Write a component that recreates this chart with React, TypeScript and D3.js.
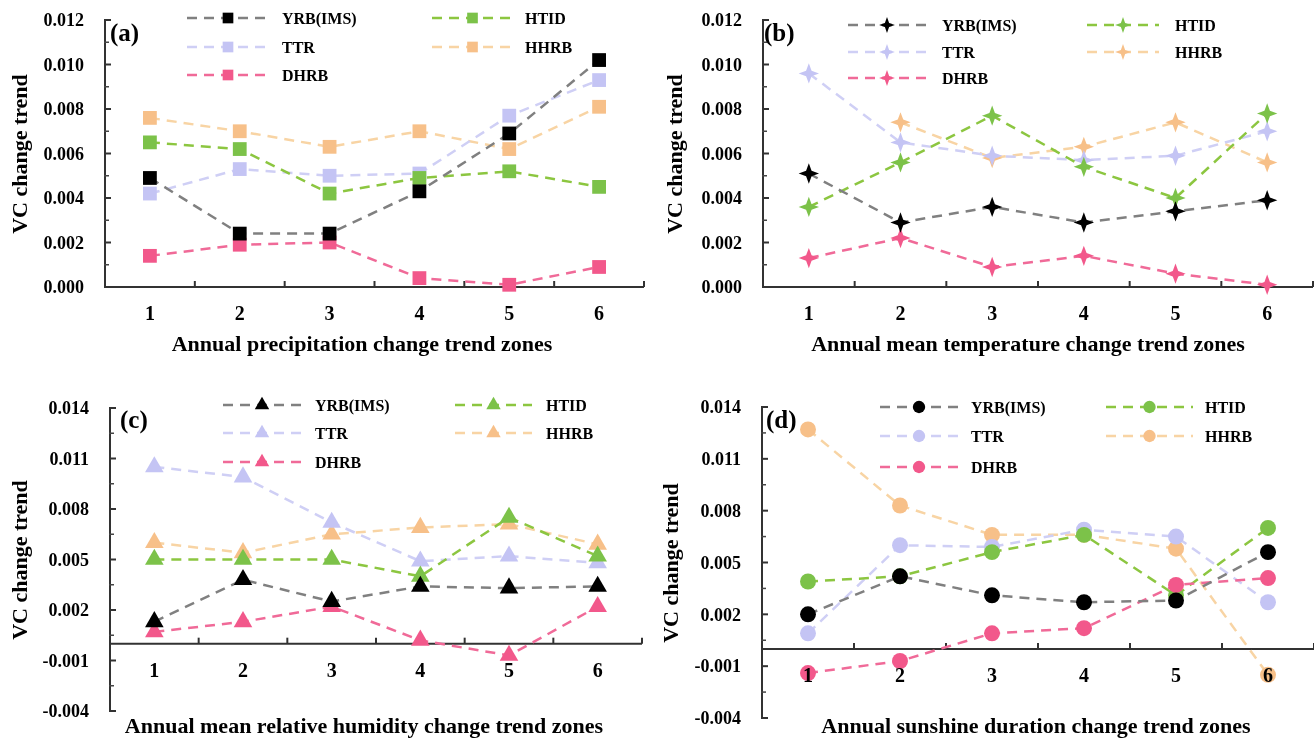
import * as d3 from 'd3';
import React from 'react';

// zones on the x axis
const zones = ['1', '2', '3', '4', '5', '6'];
const seriesNames = ['YRB(IMS)', 'TTR', 'HTID', 'HHRB', 'DHRB'];
// legend columns
const legendCol1 = ['YRB(IMS)', 'TTR', 'DHRB'];
const legendCol2 = ['HTID', 'HHRB'];

const ticksAB = [0, 0.002, 0.004, 0.006, 0.008, 0.01, 0.012];
const ticksCD = [-0.004, -0.001, 0.002, 0.005, 0.008, 0.011, 0.014];

// (a) precipitation
const precipYRB = [0.0049, 0.0024, 0.0024, 0.0043, 0.0069, 0.0102];
const precipTTR = [0.0042, 0.0053, 0.005, 0.0051, 0.0077, 0.0093];
const precipHTID = [0.0065, 0.0062, 0.0042, 0.0049, 0.0052, 0.0045];
const precipHHRB = [0.0076, 0.007, 0.0063, 0.007, 0.0062, 0.0081];
const precipDHRB = [0.0014, 0.0019, 0.002, 0.0004, 0.0001, 0.0009];

// (b) temperature
const tempYRB = [0.0051, 0.0029, 0.0036, 0.0029, 0.0034, 0.0039];
const tempTTR = [0.0096, 0.0065, 0.0059, 0.0057, 0.0059, 0.007];
const tempHTID = [0.0036, 0.0056, 0.0077, 0.0054, 0.004, 0.0078];
const tempHHRB = [null, 0.0074, 0.0058, 0.0063, 0.0074, 0.0056];
const tempDHRB = [0.0013, 0.0022, 0.0009, 0.0014, 0.0006, 0.0001];

// (c) relative humidity
const humYRB = [0.0013, 0.0038, 0.0025, 0.0034, 0.0033, 0.0034];
const humTTR = [0.0105, 0.0099, 0.0072, 0.0049, 0.0052, 0.0048];
const humHTID = [0.005, 0.005, 0.005, 0.004, 0.0075, 0.0052];
const humHHRB = [0.006, 0.0054, 0.0065, 0.0069, 0.0071, 0.0059];
const humDHRB = [0.0007, 0.0013, 0.0022, 0.0002, -0.0007, 0.0022];

// (d) sunshine duration
const sunYRB = [0.002, 0.0042, 0.0031, 0.0027, 0.0028, 0.0056];
const sunTTR = [0.0009, 0.006, 0.0059, 0.0069, 0.0065, 0.0027];
const sunHTID = [0.0039, 0.0042, 0.0056, 0.0066, 0.0031, 0.007];
const sunHHRB = [0.0127, 0.0083, 0.0066, 0.0066, 0.0058, -0.0015];
const sunDHRB = [-0.0014, -0.0007, 0.0009, 0.0012, 0.0037, 0.0041];

const colors = {
  'YRB(IMS)': { line: '#808080', mark: '#000000' },
  TTR: { line: '#cfcff5', mark: '#c4c4f4' },
  HTID: { line: '#8cc640', mark: '#7cc24a' },
  HHRB: { line: '#f8d4a4', mark: '#f7c089' },
  DHRB: { line: '#f06a98', mark: '#f2598b' },
};

// 4 point star used in panel (b)
const star4 = {
  draw(ctx, size) {
    const r = Math.sqrt(size) * 0.72;
    const ri = r * 0.38;
    for (let i = 0; i < 8; i++) {
      const a = (i * Math.PI) / 4 - Math.PI / 2;
      const rr = i % 2 ? ri : r;
      if (i === 0) ctx.moveTo(rr * Math.cos(a), rr * Math.sin(a));
      else ctx.lineTo(rr * Math.cos(a), rr * Math.sin(a));
    }
    ctx.closePath();
  },
};

const panels = [
  {
    label: '(a)', title: 'Annual precipitation change trend zones',
    data: [precipYRB, precipTTR, precipHTID, precipHHRB, precipDHRB],
    symbol: d3.symbolSquare, size: 190, domain: [0, 0.012], ticks: ticksAB,
    x0: 105, x1: 644, yTop: 20, yBot: 287, catY: 313, titleX: 362, titleY: 343,
    labelX: 110, labelY: 41, yTitleX: 19, yTitleY: 154,
    legRows: [18, 47, 75], col1: [187, 269, 282], col2: [432, 513, 525],
  },
  {
    label: '(b)', title: 'Annual mean temperature change trend zones',
    data: [tempYRB, tempTTR, tempHTID, tempHHRB, tempDHRB],
    symbol: star4, size: 200, domain: [0, 0.012], ticks: ticksAB,
    x0: 763, x1: 1313, yTop: 20, yBot: 287, catY: 313, titleX: 1028, titleY: 343,
    labelX: 764, labelY: 41, yTitleX: 674, yTitleY: 154,
    legRows: [25, 52, 78], col1: [848, 926, 942], col2: [1087, 1159, 1175],
  },
  {
    label: '(c)', title: 'Annual mean relative humidity change trend zones',
    data: [humYRB, humTTR, humHTID, humHHRB, humDHRB],
    symbol: d3.symbolTriangle, size: 150, domain: [-0.004, 0.014], ticks: ticksCD,
    x0: 110, x1: 642, yTop: 408, yBot: 711, catY: 670, titleX: 364, titleY: 725,
    labelX: 120, labelY: 428, yTitleX: 19, yTitleY: 560,
    legRows: [405, 433, 462], col1: [223, 301, 315], col2: [455, 532, 546],
  },
  {
    label: '(d)', title: 'Annual  sunshine duration change trend zones',
    data: [sunYRB, sunTTR, sunHTID, sunHHRB, sunDHRB],
    symbol: d3.symbolCircle, size: 200, domain: [-0.004, 0.014], ticks: ticksCD,
    x0: 762, x1: 1314, yTop: 407, yBot: 718, catY: 675, titleX: 1036, titleY: 725,
    labelX: 766, labelY: 428, yTitleX: 670, yTitleY: 563,
    legRows: [407, 436, 467], col1: [880, 958, 971], col2: [1106, 1193, 1205],
  },
];

const font = "'Liberation Serif', 'Times New Roman', serif";
const drawOrder = [3, 1, 2, 4, 0];

function Panel({ p }) {
  const x = d3.scaleBand().domain(zones).range([p.x0, p.x1]);
  const cx = (z) => x(z) + x.bandwidth() / 2;
  const y = d3.scaleLinear().domain(p.domain).range([p.yBot, p.yTop]);
  const axisY = y(Math.max(0, p.domain[0]));
  const minor = d3.pairs(p.ticks).map(([a, b]) => (a + b) / 2);
  const sym = d3.symbol().type(p.symbol).size(p.size);
  const legSym = d3.symbol().type(p.symbol).size(p.size * 0.6);
  const line = d3.line()
    .defined((d) => d != null)
    .x((d, i) => cx(zones[i]))
    .y((d) => y(d));

  const legendItem = (name, row, col) => {
    const c = colors[name];
    const ly = p.legRows[row];
    return (
      <g key={name}>
        <line x1={col[0]} x2={col[1]} y1={ly} y2={ly} stroke={c.line}
          strokeWidth={2.5} strokeDasharray="10,7" />
        <path d={legSym()} transform={`translate(${(col[0] + col[1]) / 2},${ly})`} fill={c.mark} />
        <text x={col[2]} y={ly} dy="0.35em" fontSize={16} fontWeight="bold"
          fontFamily={font}>{name}</text>
      </g>
    );
  };

  return (
    <g>
      {/* y axis */}
      <line x1={p.x0} x2={p.x0} y1={p.yTop} y2={p.yBot} stroke="#333" strokeWidth={2} />
      {p.ticks.map((t) => (
        <g key={t}>
          <line x1={p.x0 - 1} x2={p.x0 + 6} y1={y(t)} y2={y(t)} stroke="#333" strokeWidth={2} />
          <text x={p.x0 - 21} y={y(t)} dy="0.35em" textAnchor="end" fontSize={18}
            fontWeight="bold" fontFamily={font}>{t.toFixed(3)}</text>
        </g>
      ))}
      {minor.map((t) => (
        <line key={t} x1={p.x0 - 1} x2={p.x0 + 4} y1={y(t)} y2={y(t)} stroke="#444" strokeWidth={1.5} />
      ))}
      {/* x axis */}
      <line x1={p.x0} x2={p.x1} y1={axisY} y2={axisY} stroke="#333" strokeWidth={2} />
      {zones.map((z) => (
        <line key={z} x1={x(z) + x.bandwidth()} x2={x(z) + x.bandwidth()} y1={axisY} y2={axisY - 6}
          stroke="#333" strokeWidth={2} />
      ))}
      <text x={p.titleX} y={p.titleY} dy="0.35em" textAnchor="middle" fontSize={22}
        fontWeight="bold" fontFamily={font}>{p.title}</text>
      <text transform={`translate(${p.yTitleX},${p.yTitleY}) rotate(-90)`}
        dy="0.35em" textAnchor="middle" fontSize={22} fontWeight="bold" fontFamily={font}>VC change trend</text>
      <text x={p.labelX} y={p.labelY} fontSize={25} fontWeight="bold" fontFamily={font}>{p.label}</text>

      {/* series */}
      {drawOrder.map((si) => {
        const name = seriesNames[si];
        const vals = p.data[si];
        return (
          <g key={name}>
            <path d={line(vals)} fill="none" stroke={colors[name].line} strokeWidth={2.5}
              strokeDasharray="10,7" />
            {vals.map((v, i) => v == null ? null : (
              <path key={i} d={sym()} transform={`translate(${cx(zones[i])},${y(v)})`}
                fill={colors[name].mark} />
            ))}
          </g>
        );
      })}

      {/* category labels drawn over the marks */}
      {zones.map((z) => (
        <text key={z} x={cx(z)} y={p.catY} dy="0.35em" textAnchor="middle" fontSize={20}
          fontWeight="bold" fontFamily={font}>{z}</text>
      ))}

      {/* legend */}
      {legendCol1.map((n, i) => legendItem(n, i, p.col1))}
      {legendCol2.map((n, i) => legendItem(n, i, p.col2))}
    </g>
  );
}

export default function App() {
  return (
    <svg width={1314} height={739} style={{ position: 'absolute', left: 0, top: 0, background: '#fff' }}>
      <defs>
        <filter id="soft">
          <feGaussianBlur stdDeviation="0.5" />
        </filter>
      </defs>
      <rect width={1314} height={739} fill="#fff" />
      <g filter="url(#soft)">
        {panels.map((p) => <Panel key={p.label} p={p} />)}
      </g>
    </svg>
  );
}
